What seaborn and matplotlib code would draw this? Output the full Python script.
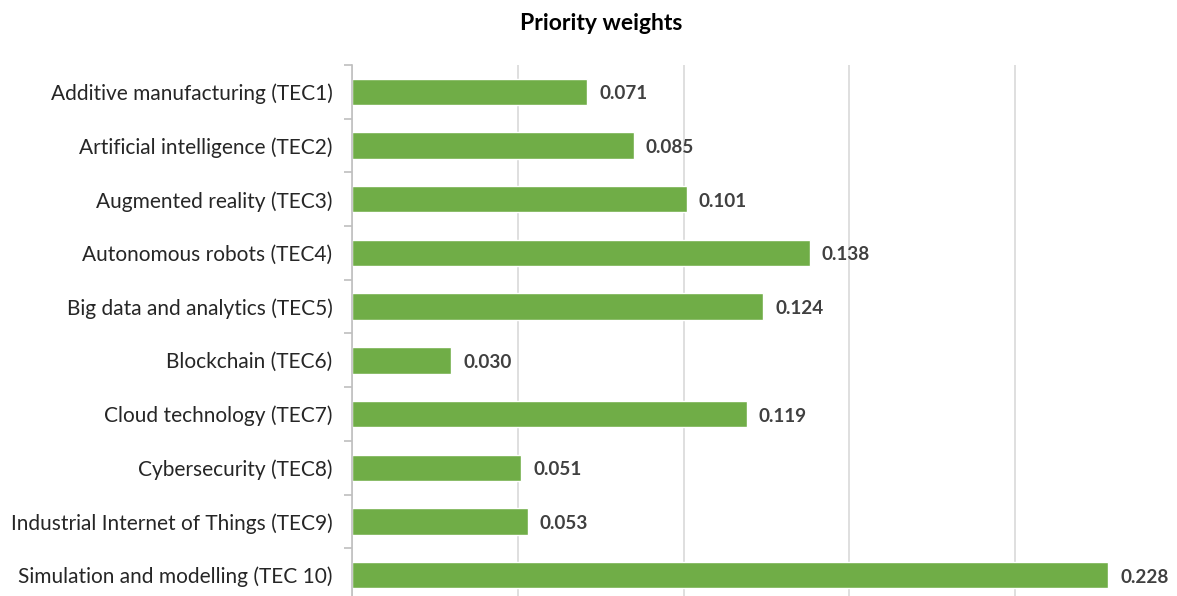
import matplotlib
matplotlib.use("Agg")
import matplotlib.pyplot as plt
import seaborn as sns
import pandas as pd
import numpy as np

categories = [
    "Additive manufacturing (TEC1)",
    "Artificial intelligence (TEC2)",
    "Augmented reality (TEC3)",
    "Autonomous robots (TEC4)",
    "Big data and analytics (TEC5)",
    "Blockchain (TEC6)",
    "Cloud technology (TEC7)",
    "Cybersecurity (TEC8)",
    "Industrial Internet of Things (TEC9)",
    "Simulation and modelling (TEC 10)",
]
weights = [0.071, 0.085, 0.101, 0.138, 0.124, 0.030, 0.119, 0.051, 0.053, 0.228]
title = "Priority weights"

df = pd.DataFrame({"cat": categories, "w": weights})

sns.set_theme(style="white")
plt.rcParams["font.family"] = ["Lato", "DejaVu Sans"]

fig = plt.figure(figsize=(11.77, 5.96), dpi=100)
ax = fig.add_axes([352 / 1177, 1 - 602 / 596, (1181 - 352) / 1177, (602 - 65) / 596])

sns.barplot(data=df, x="w", y="cat", color="#70AD47", saturation=1, width=0.49, ax=ax, orient="h")

ax.set_xlim(0, 0.25)
ax.set_ylim(len(categories) - 0.5, -0.5)
ax.set_xticks([0, 0.05, 0.1, 0.15, 0.2, 0.25])
ax.set_xticklabels([])
ax.xaxis.grid(True, color="#D9D9D9", linewidth=1.2)
ax.set_axisbelow(True)
ax.tick_params(axis="x", length=0)
ax.set_xlabel("")
ax.set_ylabel("")

for s in ["top", "right", "bottom"]:
    ax.spines[s].set_visible(False)
ax.spines["left"].set_color("#BFBFBF")
ax.spines["left"].set_linewidth(1.2)

ax.tick_params(axis="y", length=0, pad=14, labelsize=15, labelcolor="#262626")
# category boundary tick marks
ax.set_yticks(np.arange(len(categories) + 1) - 0.5, minor=True)
ax.tick_params(axis="y", which="minor", length=6, color="#BFBFBF", width=1.2, left=True)

for i, v in enumerate(weights):
    ax.annotate(f"{v:.3f}", xy=(v, i), xytext=(12, -2), textcoords="offset pixels",
                va="center", ha="left", fontsize=13.6, fontweight="bold", color="#404040")

fig.text(601 / 1177, 1 - 24 / 596, title, ha="center", va="center", fontsize=16.5,
         fontweight="bold", color="#000000")

fig.savefig("out.png", dpi=100)
